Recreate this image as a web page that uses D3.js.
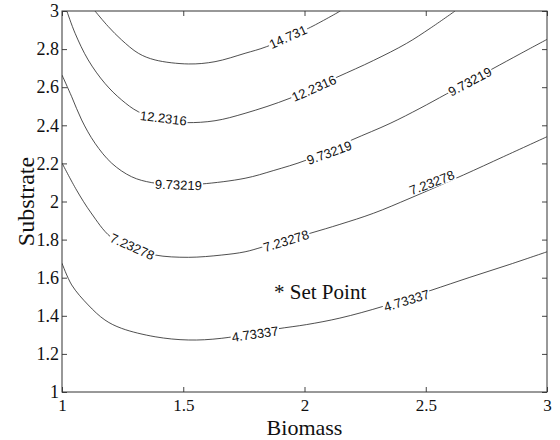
<!DOCTYPE html>
<html>
<head>
<meta charset="utf-8">
<script src="https://cdn.jsdelivr.net/npm/d3@7"></script>
<style>
  body { margin: 0; background: #fff; }
  svg { display: block; }
</style>
</head>
<body>
<div id="chart"></div>
<script>

// contour levels
var levels = [4.73337, 7.23278, 9.73219, 12.2316, 14.731];

// points along each contour [biomass, substrate]
var c4733 = [[1.0,1.676],[1.040,1.562],[1.108,1.457],[1.177,1.378],[1.246,1.334],[1.384,1.290],[1.521,1.273],[1.659,1.282],[1.885,1.331],[2.009,1.354],[2.146,1.388],[2.325,1.450],[2.518,1.532],[2.682,1.602],[2.847,1.670],[3.0,1.736]];
var c7233 = [[1.0,2.202],[1.06,2.060],[1.12,1.940],[1.2,1.815],[1.290,1.757],[1.384,1.719],[1.521,1.707],[1.659,1.719],[1.755,1.736],[1.824,1.760],[2.023,1.833],[2.146,1.880],[2.284,1.938],[2.435,2.017],[2.655,2.139],[2.820,2.235],[3.0,2.340]];
var c9732 = [[1.0,2.664],[1.040,2.550],[1.081,2.428],[1.136,2.306],[1.205,2.201],[1.287,2.130],[1.370,2.099],[1.480,2.088],[1.576,2.092],[1.755,2.122],[1.871,2.162],[2.009,2.218],[2.195,2.323],[2.353,2.410],[2.476,2.489],[2.586,2.565],[2.772,2.694],[2.889,2.775],[3.0,2.851]];
var c12232 = [[1.02,3.0],[1.054,2.883],[1.108,2.743],[1.177,2.620],[1.246,2.533],[1.315,2.471],[1.420,2.425],[1.514,2.414],[1.631,2.424],[1.755,2.463],[1.940,2.542],[2.133,2.652],[2.284,2.740],[2.421,2.830],[2.518,2.909],[2.621,3.0]];
var c14731 = [[1.136,3.0],[1.191,2.918],[1.246,2.848],[1.315,2.778],[1.384,2.743],[1.521,2.722],[1.631,2.734],[1.755,2.778],[1.844,2.813],[2.016,2.909],[2.148,3.0]];

var contours = [c4733, c7233, c9732, c12232, c14731];

// inline labels [x, y, angle, text]
var labels = [
  [1.796, 1.304, -8, "4.73337"],
  [2.421, 1.480, -17, "4.73337"],
  [1.290, 1.763, 24, "7.23278"],
  [1.924, 1.793, -17, "7.23278"],
  [2.525, 2.099, -21, "7.23278"],
  [1.480, 2.087, 2, "9.73219"],
  [2.102, 2.256, -20, "9.73219"],
  [2.682, 2.629, -28, "9.73219"],
  [1.418, 2.437, 7, "12.2316"],
  [2.039, 2.594, -24, "12.2316"],
  [1.932, 2.864, -24, "14.731"]
];

var setPoint = [1.895, 1.535];

var xTicks = [1, 1.5, 2, 2.5, 3];
var yTicks = [1, 1.2, 1.4, 1.6, 1.8, 2, 2.2, 2.4, 2.6, 2.8, 3];

var width = 560, height = 440;
var margin = {top: 11, right: 13, bottom: 48, left: 62};

var svg = d3.select("#chart")
	.append("svg")
	.attr("width", width)
	.attr("height", height);

var x = d3.scaleLinear().domain([1, 3]).range([margin.left, width - margin.right]);
var y = d3.scaleLinear().domain([1, 3]).range([height - margin.bottom, margin.top]);

svg.append("clipPath").attr("id", "clip")
	.append("rect")
	.attr("x", x(1)).attr("y", y(3))
	.attr("width", x(3) - x(1)).attr("height", y(1) - y(3));

var line = d3.line()
	.x(function(d){ return x(d[0]); })
	.y(function(d){ return y(d[1]); })
	.curve(d3.curveCatmullRom);

svg.append("g").attr("clip-path", "url(#clip)")
	.selectAll("path")
	.data(contours)
	.enter().append("path")
	.attr("d", line)
	.attr("fill", "none")
	.attr("stroke", "#222")
	.attr("stroke-width", 0.8);

// labels with white box that breaks the line
var lab = svg.append("g").selectAll("g")
	.data(labels)
	.enter().append("g")
	.attr("transform", function(d){
		return "translate(" + x(d[0]) + "," + y(d[1]) + ") rotate(" + d[2] + ")";
	});

lab.append("text")
	.attr("text-anchor", "middle")
	.attr("dy", "0.35em")
	.attr("font-family", "'Liberation Sans', Arial, sans-serif")
	.attr("font-size", 13)
	.attr("fill", "#111")
	.text(function(d){ return d[3]; });

lab.each(function(){
	var g = d3.select(this);
	var bb = g.select("text").node().getBBox();
	g.insert("rect", "text")
		.attr("x", bb.x - 1).attr("y", bb.y + 2)
		.attr("width", bb.width + 2).attr("height", bb.height - 4)
		.attr("fill", "#fff");
});

// axes, MATLAB style inward ticks on all four sides
var tickLen = 5;
var axisFont = "'Liberation Serif', 'Times New Roman', serif";

var fmt = function(d){ return String(+d.toFixed(1)); };

svg.append("g")
	.attr("transform", "translate(0," + y(1) + ")")
	.call(d3.axisBottom(x).tickValues(xTicks).tickSize(-tickLen).tickPadding(7).tickFormat(fmt))
	.call(function(g){
		g.select(".domain").remove();
		g.selectAll("text").attr("font-family", axisFont).attr("font-size", 17).attr("fill", "#111");
		g.selectAll("line").attr("stroke", "#444");
	});

svg.append("g")
	.attr("transform", "translate(0," + y(3) + ")")
	.call(d3.axisTop(x).tickValues(xTicks).tickSize(-tickLen).tickFormat(""))
	.call(function(g){
		g.select(".domain").remove();
		g.selectAll("line").attr("stroke", "#444");
	});

svg.append("g")
	.attr("transform", "translate(" + x(1) + ",0)")
	.call(d3.axisLeft(y).tickValues(yTicks).tickSize(-tickLen).tickPadding(3).tickFormat(fmt))
	.call(function(g){
		g.select(".domain").remove();
		g.selectAll("text").attr("font-family", axisFont).attr("font-size", 18).attr("fill", "#111");
		g.selectAll("line").attr("stroke", "#444");
	});

svg.append("g")
	.attr("transform", "translate(" + x(3) + ",0)")
	.call(d3.axisRight(y).tickValues(yTicks).tickSize(-tickLen).tickFormat(""))
	.call(function(g){
		g.select(".domain").remove();
		g.selectAll("line").attr("stroke", "#444");
	});

svg.append("rect")
	.attr("x", x(1)).attr("y", y(3))
	.attr("width", x(3) - x(1)).attr("height", y(1) - y(3))
	.attr("fill", "none")
	.attr("stroke", "#333")
	.attr("stroke-width", 1);

// set point marker
svg.append("text")
	.attr("x", x(setPoint[0]) - 5)
	.attr("y", y(setPoint[1]) + 9)
	.attr("font-family", axisFont)
	.attr("font-size", 21)
	.attr("fill", "#111")
	.text("* Set Point");

// axis titles
svg.append("text")
	.attr("x", (x(1) + x(3)) / 2)
	.attr("y", 434.5)
	.attr("text-anchor", "middle")
	.attr("font-family", axisFont)
	.attr("font-size", 22)
	.attr("fill", "#111")
	.text("Biomass");

svg.append("text")
	.attr("transform", "translate(34," + (y(1) + y(3)) / 2 + ") rotate(-90)")
	.attr("text-anchor", "middle")
	.attr("font-family", axisFont)
	.attr("font-size", 24)
	.attr("fill", "#111")
	.text("Substrate");

</script>
</body>
</html>
